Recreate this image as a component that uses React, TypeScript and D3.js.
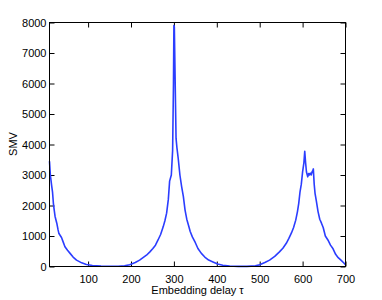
import React, { useEffect, useRef } from "react";
import * as d3 from "d3";

const tau = [
  10, 12, 15, 17, 19, 21, 23, 27, 30, 32, 38, 42, 46, 52, 58, 65, 73, 85, 96,
  110, 130, 150, 170, 185, 197, 210, 220, 228, 236, 244, 251, 257, 263, 269,
  275, 279, 283, 287, 290, 294, 297, 299, 300, 301, 303, 305, 307, 310, 314,
  318, 322, 326, 330, 334, 338, 343, 350, 356, 364, 372, 381, 391, 402, 414,
  430, 450, 470, 490, 500, 512, 523, 535, 546, 554, 562, 568, 574, 579, 584,
  588, 591, 594, 597, 600, 603, 605, 607, 609, 612, 614, 616, 618, 620, 622,
  624, 625, 627, 629, 632, 636, 640, 644, 648, 653, 659, 665, 671, 677, 683,
  690, 695, 700,
];

const smv = [
  3450, 3000, 2650, 2450, 2080, 1850, 1640, 1420, 1200, 1080, 950, 800, 650,
  530, 430, 310, 210, 120, 65, 35, 15, 8, 10, 25, 60, 130, 210, 290, 370, 480,
  590, 700, 870, 1050, 1300, 1500, 1750, 2200, 2800, 3000, 3800, 6000, 7900,
  7850, 6000, 4200, 3900, 3550, 3000, 2620, 2300, 1850, 1550, 1350, 1150, 970,
  780, 590, 430, 310, 210, 150, 80, 40, 15, 5, 5, 20, 60, 130, 210, 330, 480,
  600, 760, 920, 1100, 1280, 1520, 1800, 2070, 2450, 2700, 3100, 3400, 3780,
  3400, 3100, 2940, 3050, 3000, 3060, 3000, 3100, 3150, 3200, 2700, 2400, 2150,
  1800, 1550, 1420, 1280, 1000, 870, 700, 580, 400, 290, 200, 130, 60,
];

const xTicks = [100, 200, 300, 400, 500, 600, 700];
const yTicks = [0, 1000, 2000, 3000, 4000, 5000, 6000, 7000, 8000];

const App = () => {
  const svgRef = useRef<SVGSVGElement>(null);
  const width = 382;
  const height = 300;
  const margin = { top: 22.5, right: 36.5, bottom: 33.5, left: 49.5 };

  useEffect(() => {
    const svgEl = d3.select(svgRef.current);
    svgEl.selectAll("*").remove();

    const x = d3
      .scaleLinear()
      .domain([10, 700])
      .range([margin.left, width - margin.right]);
    const y = d3
      .scaleLinear()
      .domain([0, 8000])
      .range([height - margin.bottom, margin.top]);

    const font = "Liberation Sans, Arial, sans-serif";
    const tick = 5;

    const styleAxis = (g) => {
      g.select(".domain").remove();
      g.selectAll("line").attr("stroke", "#000");
      g.selectAll("text")
        .attr("font-family", font)
        .attr("font-size", 11)
        .attr("fill", "#000");
    };

    svgEl
      .append("g")
      .attr("transform", `translate(0,${height - margin.bottom})`)
      .call(
        d3
          .axisBottom(x)
          .tickValues(xTicks)
          .tickSize(-tick)
          .tickPadding(9)
          .tickFormat(d3.format("d"))
      )
      .call(styleAxis);
    svgEl
      .append("g")
      .attr("transform", `translate(0,${margin.top})`)
      .call(
        d3.axisTop(x).tickValues(xTicks).tickSize(-tick).tickFormat(() => "")
      )
      .call(styleAxis);
    svgEl
      .append("g")
      .attr("transform", `translate(${margin.left},0)`)
      .call(
        d3
          .axisLeft(y)
          .tickValues(yTicks)
          .tickSize(-tick)
          .tickPadding(3)
          .tickFormat(d3.format("d"))
      )
      .call(styleAxis);
    svgEl
      .append("g")
      .attr("transform", `translate(${width - margin.right},0)`)
      .call(
        d3.axisRight(y).tickValues(yTicks).tickSize(-tick).tickFormat(() => "")
      )
      .call(styleAxis);

    const line = d3
      .line<number>()
      .x((d, i) => x(tau[i]))
      .y((d) => y(d));

    svgEl
      .append("path")
      .datum(smv)
      .attr("fill", "none")
      .attr("stroke", "#2b3dff")
      .attr("stroke-width", 1.6)
      .attr("stroke-linejoin", "round")
      .attr("d", line);

    svgEl
      .append("rect")
      .attr("x", margin.left)
      .attr("y", margin.top)
      .attr("width", width - margin.left - margin.right)
      .attr("height", height - margin.top - margin.bottom)
      .attr("fill", "none")
      .attr("stroke", "#000")
      .attr("stroke-width", 1);

    svgEl
      .append("text")
      .attr("x", (margin.left + width - margin.right) / 2)
      .attr("y", 294)
      .attr("text-anchor", "middle")
      .attr("font-family", font)
      .attr("font-size", 11)
      .text("Embedding delay τ");

    svgEl
      .append("text")
      .attr("transform", `translate(17,144) rotate(-90)`)
      .attr("text-anchor", "middle")
      .attr("font-family", font)
      .attr("font-size", 11)
      .text("SMV");
  }, []);

  return (
    <svg
      ref={svgRef}
      width={width}
      height={height}
      style={{ position: "absolute", left: 0, top: 0, background: "#fff" }}
    />
  );
};

export default App;
